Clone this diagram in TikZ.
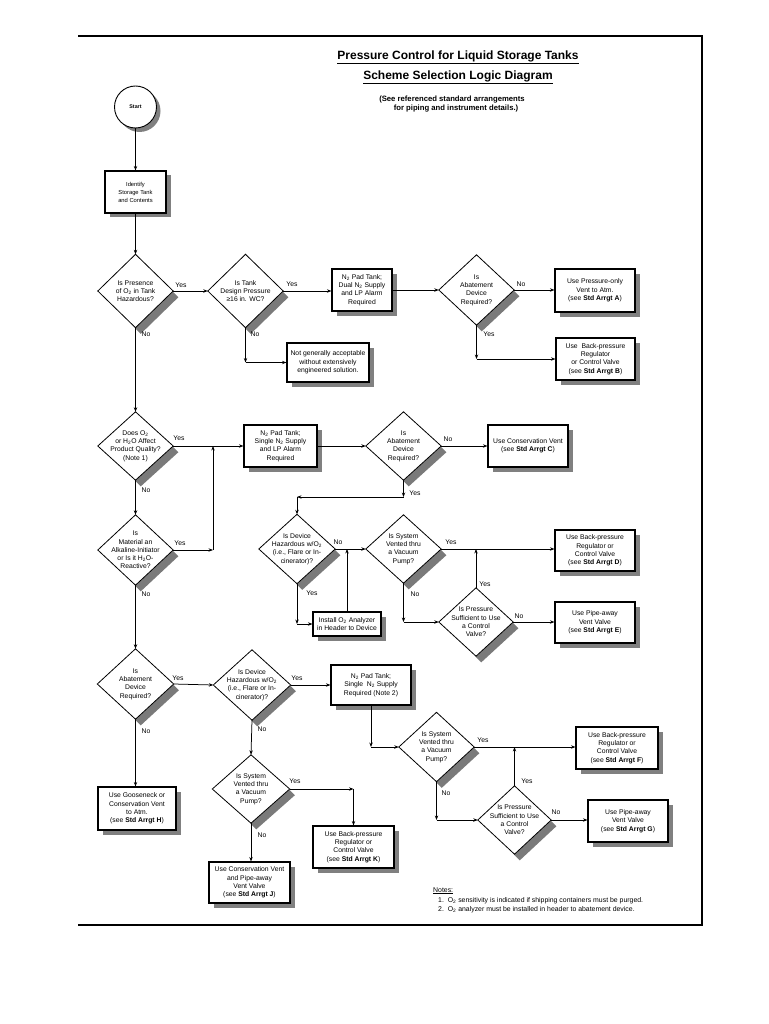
\documentclass[tikz,border=0pt]{standalone}
\usepackage{fontspec}
\setmainfont{Liberation Sans}
\usetikzlibrary{shapes.geometric,arrows.meta,shadows,calc}
\newcommand\subtwo{\textsubscript{2}}
\newcommand\mybox[5]{\node[box, minimum width=#3pt, minimum height=#4pt] (#1) at (#2) {#5};}
\newcommand\mydia[5]{%
  \node[dia, minimum width=#3pt, minimum height=#4pt] (#1) at (#2) {};
  \fill[diashadow] ($(#1.east)+(-0.5,0.5)$) -- ($(#1.east)+(5.2,6.2)$) -- ($(#1.south)+(5.2,6.2)$) -- ($(#1.south)+(-0.5,0.5)$) -- cycle;
  \draw[diaedge] (#1.north) -- (#1.east) -- (#1.south) -- (#1.west) -- cycle;
  \node[txt] at (#1) {#5};}
\begin{document}
\begin{tikzpicture}[x=1pt,y=-1pt,
  txt/.style={font=\fontsize{6.8}{8.3}\selectfont, align=center, inner sep=0pt},
  box/.style={draw, line width=1.1pt, fill=white, inner sep=0pt, align=center,
    font=\fontsize{6.8}{8.3}\selectfont,
    drop shadow={shadow xshift=4.5pt, shadow yshift=-4.5pt, opacity=1, fill=black!50}},
  dia/.style={diamond, inner sep=0pt},
  diashadow/.style={fill=black!52},
  diaedge/.style={draw, line width=0.8pt, fill=white, line join=miter},
  arr/.style={line width=0.75pt, -{Stealth[length=4.5pt,width=3.4pt]}},
  lab/.style={font=\fontsize{6.8}{8}\selectfont, inner sep=0pt},
  frame/.style={line width=2pt}
]
\fill[white] (0,0) rectangle (768,1024);
\useasboundingbox (0,0) rectangle (768,1024);

% frame
\draw[frame] (78,36) -- (701.5,36) -- (701.5,925) -- (78,925);

% titles
\node[font=\bfseries\fontsize{12}{14}\selectfont, anchor=base, inner sep=0pt] (t1) at (458,59.5) {\underline{Pressure Control for Liquid Storage Tanks}};
\node[font=\bfseries\fontsize{12}{14}\selectfont, anchor=base, inner sep=0pt] (t2) at (458,79.5) {\underline{Scheme Selection Logic Diagram}};
\node[font=\bfseries\fontsize{7.7}{9}\selectfont, anchor=base, inner sep=0pt] (s1t) at (452,101.5) {(See referenced standard arrangements};
\node[font=\bfseries\fontsize{7.7}{9}\selectfont, anchor=base, inner sep=0pt] (s2t) at (456,111) {for piping and instrument details.)};

% start
\node[circle, draw, line width=0.9pt, fill=white, minimum size=42pt, inner sep=0pt,
  font=\bfseries\fontsize{5.3}{6}\selectfont,
  drop shadow={shadow xshift=4pt, shadow yshift=-4pt, opacity=1, fill=black!50}] (start) at (135.5,107) {Start};

% boxes
\node[box, minimum width=61pt, minimum height=42pt, font=\fontsize{5.8}{8}\selectfont] (id) at (135.5,192) {Identify\\Storage Tank\\and Contents};
\mybox{dual}{362,290}{60}{42}{N\subtwo{} Pad Tank;\\Dual N\subtwo{} Supply\\and LP Alarm\\Required}
\mybox{bA}{595,290.5}{80}{43}{Use Pressure-only\\Vent to Atm.\\(see \textbf{Std Arrgt A})}
\mybox{bB}{595.5,359}{79}{42}{Use~ Back-pressure\\Regulator\\or Control Valve\\(see \textbf{Std Arrgt B})}
\mybox{na}{328,362.5}{82}{39}{Not generally acceptable\\without extensively\\engineered solution.}
\mybox{s1}{280.5,446}{73}{42}{N\subtwo{} Pad Tank;\\Single N\subtwo{} Supply\\and LP Alarm\\Required}
\mybox{bC}{528,446}{80}{42}{Use Conservation Vent\\(see \textbf{Std Arrgt C})}
\mybox{an}{347,624}{68}{24}{Install O\subtwo{} Analyzer\\in Header to Device}
\mybox{bD}{595,550.5}{80}{41}{Use Back-pressure\\Regulator or\\Control Valve\\(see \textbf{Std Arrgt D})}
\mybox{bE}{595,622.5}{80}{41}{Use Pipe-away\\Vent Valve\\(see \textbf{Std Arrgt E})}
\mybox{s2}{371,685}{80}{40}{N\subtwo{} Pad Tank;\\Single~ N\subtwo{} Supply\\Required (Note 2)}
\mybox{bF}{617,748}{82}{42}{Use Back-pressure\\Regulator or\\Control Valve\\(see \textbf{Std Arrgt F})}
\mybox{bG}{628,821}{80}{42}{Use Pipe-away\\Vent Valve\\(see \textbf{Std Arrgt G})}
\mybox{bH}{137,808.5}{78}{43}{Use Gooseneck or\\Conservation Vent\\to Atm.\\(see \textbf{Std Arrgt H})}
\mybox{bK}{353.5,847}{81}{42}{Use Back-pressure\\Regulator or\\Control Valve\\(see \textbf{Std Arrgt K})}
\mybox{bJ}{249.5,882.5}{81}{41}{Use Conservation Vent\\and Pipe-away\\Vent Valve\\(see \textbf{Std Arrgt J})}

% diamonds
\mydia{d1}{135.5,291}{75}{73}{Is Presence\\of O\subtwo{} in Tank\\Hazardous?}
\mydia{d2}{245.5,291}{75}{73}{Is Tank\\Design Pressure\\≥16 in. WC?}
\mydia{d3}{476.5,290}{75}{70}{Is\\Abatement\\Device\\Required?}
\mydia{d4}{135.5,446}{75}{68}{Does O\subtwo\\or H\subtwo{}O Affect\\Product Quality?\\(Note 1)}
\mydia{d5}{403.5,446}{75}{68}{Is\\Abatement\\Device\\Required?}
\mydia{d6}{135.5,550}{75}{70}{Is\\Material an\\Alkaline-Initiator\\or Is it H\subtwo{}O-\\Reactive?}
\mydia{d7}{297,549}{76}{69}{Is Device\\Hazardous w/O\subtwo\\(i.e., Flare or In-\\cinerator)?}
\mydia{d8}{403.5,549}{75}{68}{Is System\\Vented thru\\a Vacuum\\Pump?}
\mydia{d9}{476,622}{74}{68}{Is Pressure\\Sufficient to Use\\a Control\\Valve?}
\mydia{d10}{135.5,684}{76}{70}{Is\\Abatement\\Device\\Required?}
\mydia{d11}{252,685}{77}{70}{Is Device\\Hazardous w/O\subtwo\\(i.e., Flare or In-\\cinerator)?}
\mydia{d12}{436.5,747}{75}{69}{Is System\\Vented thru\\a Vacuum\\Pump?}
\mydia{d13}{514.5,820}{73}{68}{Is Pressure\\Sufficient to Use\\a Control\\Valve?}
\mydia{d14}{251,789}{77}{68}{Is System\\Vented thru\\a Vacuum\\Pump?}

% junction coordinates
\coordinate (c2) at (d2.south |- na.west);
\coordinate (c3) at (d3.south |- bB.west);
\coordinate (j1) at (213,446);
\coordinate (j1b) at (j1 |- d6.east);
\coordinate (c5) at (403.5,497);
\coordinate (c5b) at (d7.north |- c5);
\coordinate (c7) at (d7.south |- an.west);
\coordinate (j7) at (an.north |- d7.east);
\coordinate (c8) at (d8.south |- d9.west);
\coordinate (j9) at (d9.north |- d8.east);
\coordinate (cs2) at (s2.south |- d12.west);
\coordinate (c12) at (d12.south |- d13.west);
\coordinate (j13) at (d13.north |- d12.east);
\coordinate (c14) at (bK.north |- d14.east);

% connectors
\draw[arr] (start.south) -- (id.north);
\draw[arr] (id.south) -- (d1.north);
\draw[arr] (d1.east) -- (d2.west);
\draw[arr] (d2.east) -- (d2.east -| dual.west);
\draw[arr] (dual.east) -- (dual.east -| d3.west);
\draw[arr] (d3.east) -- (d3.east -| bA.west);
\draw[arr] (d3.south) -- (c3);
\draw[arr] (c3) -- (bB.west);
\draw[arr] (d2.south) -- (c2);
\draw[arr] (c2) -- (na.west);
\draw[arr] (d1.south) -- (d4.north);

\draw[arr] (d4.east) -- (d4.east -| s1.west);
\draw[arr] (d6.east) -- (j1b);
\draw[arr] (j1b) -- (j1);
\draw[arr] (s1.east) -- (s1.east -| d5.west);
\draw[arr] (d5.east) -- (d5.east -| bC.west);
\draw[arr] (d5.south) -- (c5);
\draw[arr] (c5) -- (c5b);
\draw[arr] (c5b) -- (d7.north);
\draw[arr] (d4.south) -- (d6.north);

\draw[arr] (d7.east) -- (d8.west);
\draw[arr] (an.north) -- (j7);
\draw[arr] (d7.south) -- (c7);
\draw[arr] (c7) -- (an.west);
\draw[arr] (d8.east) -- (d8.east -| bD.west);
\draw[arr] (d9.north) -- (j9);
\draw[arr] (d8.south) -- (c8);
\draw[arr] (c8) -- (d9.west);
\draw[arr] (d9.east) -- (d9.east -| bE.west);

\draw[arr] (d6.south) -- (d10.north);
\draw[arr] (d10.east) -- (d11.west);
\draw[arr] (d11.east) -- (d11.east -| s2.west);
\draw[arr] (s2.south) -- (cs2);
\draw[arr] (cs2) -- (d12.west);
\draw[arr] (d12.east) -- (d12.east -| bF.west);
\draw[arr] (d13.north) -- (j13);
\draw[arr] (d12.south) -- (c12);
\draw[arr] (c12) -- (d13.west);
\draw[arr] (d13.east) -- (d13.east -| bG.west);
\draw[arr] (d10.south) -- (d10.south |- bH.north);
\draw[arr] (d11.south) -- (d14.north);
\draw[arr] (d14.east) -- (c14);
\draw[arr] (c14) -- (bK.north);
\draw[arr] (d14.south) -- (d14.south |- bJ.north);

% Yes / No labels
\node[lab] (l1) at (181,285) {Yes};
\node[lab] (l2) at (292,284) {Yes};
\node[lab] (l3) at (521,284) {No};
\node[lab] (l4) at (489,334) {Yes};
\node[lab] (l5) at (146,334) {No};
\node[lab] (l6) at (255,334) {No};
\node[lab] (l7) at (179,438) {Yes};
\node[lab] (l8) at (146,490) {No};
\node[lab] (l9) at (180,543) {Yes};
\node[lab] (l10) at (146,594) {No};
\node[lab] (l11) at (448,439) {No};
\node[lab] (l12) at (415,493) {Yes};
\node[lab] (l13) at (338,542) {No};
\node[lab] (l14) at (312,593) {Yes};
\node[lab] (l15) at (451,542) {Yes};
\node[lab] (l16) at (415,594) {No};
\node[lab] (l17) at (485,584) {Yes};
\node[lab] (l18) at (519,616) {No};
\node[lab] (l19) at (178,678) {Yes};
\node[lab] (l20) at (146,731) {No};
\node[lab] (l21) at (297,678) {Yes};
\node[lab] (l22) at (262,729) {No};
\node[lab] (l23) at (295,781) {Yes};
\node[lab] (l24) at (262,835) {No};
\node[lab] (l25) at (483,740) {Yes};
\node[lab] (l26) at (527,781) {Yes};
\node[lab] (l27) at (446,793) {No};
\node[lab] (l28) at (556,812) {No};

% notes
\node[font=\fontsize{6.9}{8}\selectfont, anchor=base west, inner sep=0pt] (n0) at (433,892) {\underline{Notes:}};
\node[font=\fontsize{6.9}{8}\selectfont, anchor=base west, inner sep=0pt] (n1) at (438,902) {1.\ \ O\subtwo{} sensitivity is indicated if shipping containers must be purged.};
\node[font=\fontsize{6.9}{8}\selectfont, anchor=base west, inner sep=0pt] (n2) at (438,911.5) {2.\ \ O\subtwo{} analyzer must be installed in header to abatement device.};
\end{tikzpicture}
\end{document}
